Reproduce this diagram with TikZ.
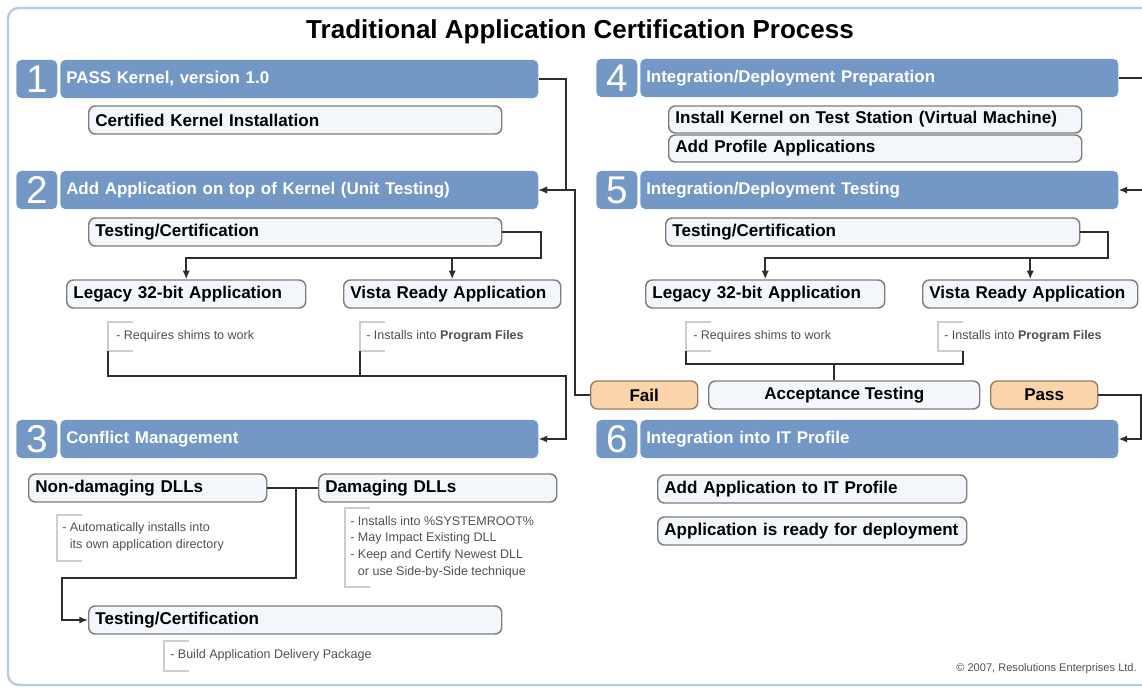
\documentclass[tikz,border=0pt]{standalone}
\usepackage{fontspec}
\setmainfont{Liberation Sans}
\usetikzlibrary{arrows.meta}

\definecolor{barblue}{RGB}{116,152,198}
\definecolor{boxfill}{RGB}{243,247,252}
\definecolor{boxline}{RGB}{125,125,125}
\definecolor{peach}{RGB}{252,212,172}
\definecolor{peachline}{RGB}{150,128,108}
\definecolor{linec}{RGB}{45,45,45}
\definecolor{framec}{RGB}{185,203,225}
\definecolor{brk}{RGB}{205,205,205}
\definecolor{notegray}{RGB}{80,80,80}

\begin{document}
\begin{tikzpicture}[x=0.75pt,y=-0.75pt,
  num/.style={fill=barblue, rounded corners=4pt, minimum width=30.75pt,
    minimum height=28.75pt, inner sep=0pt, text=white,
    font=\fontsize{29}{31}\selectfont, anchor=west},
  bar/.style={fill=barblue, rounded corners=4pt, minimum height=28.75pt,
    inner xsep=4.5pt, inner ysep=0pt, text width=349.5pt, text=white,
    font=\fontsize{12.7}{15}\selectfont\bfseries, align=left, anchor=west},
  sub/.style={draw=boxline, fill=boxfill, line width=1.1pt, rounded corners=5pt,
    minimum height=21pt, inner xsep=5pt, inner ysep=0pt, text=black,
    font=\fontsize{12.8}{15}\selectfont\bfseries, align=left, anchor=west},
  tag/.style={draw=peachline, fill=peach, line width=1.1pt, rounded corners=5pt,
    minimum height=21pt, minimum width=80.25pt, inner sep=0pt, text=black,
    font=\fontsize{12.8}{15}\selectfont\bfseries, anchor=west},
  note/.style={anchor=west, inner sep=0pt, text=notegray, align=left,
    font=\fontsize{9.4}{12.6}\selectfont},
  bracket/.style={draw=brk, line width=0.8pt},
  conn/.style={draw=linec, line width=1.5pt},
  arr/.style={conn, -{Latex[length=6.5pt,width=5.5pt]}}
]
\useasboundingbox (0,0) rectangle (1142,688);

% outer frame
\draw[framec, line width=1.8pt, rounded corners=8pt] (8,8) rectangle (1180,685);

% title
\node[font=\fontsize{19.5}{23}\selectfont\bfseries] (title) at (580,32)
  {Traditional Application Certification Process};

% ---------- left column ----------
\node[num] (n1) at (16,79) {1};
\node[bar] (b1) at (60,79) {PASS Kernel, version 1.0};
\node[sub, text width=299.75pt] (s1a) at (88,120) {Certified Kernel Installation};

\node[num] (n2) at (16,190) {2};
\node[bar] (b2) at (60,190) {Add Application on top of Kernel (Unit Testing)};
\node[sub, text width=299.75pt] (s2t) at (88,232) {Testing/Certification};
\node[sub, text width=169.25pt] (s2l) at (66,294) {Legacy 32-bit Application};
\node[sub, text width=152.75pt] (s2v) at (343,294) {Vista Ready Application};

\draw[bracket] (133,322) -- (108,322) -- (108,351) -- (133,351);
\node[note] (t2l) at (116,336) {- Requires shims to work};
\draw[bracket] (385,322) -- (360,322) -- (360,351) -- (385,351);
\node[note] (t2v) at (366,336) {- Installs into \textbf{Program Files}};

\node[num] (n3) at (16,439) {3};
\node[bar] (b3) at (60,439) {Conflict Management};
\node[sub, text width=168.5pt] (s3n) at (28,488) {Non-damaging DLLs};
\node[sub, text width=168.5pt] (s3d) at (318,488) {Damaging DLLs};

\draw[bracket] (82,515) -- (57,515) -- (57,561) -- (82,561);
\node[note] (t3n) at (62,537)
  {- Automatically installs into\\\phantom{- }its own application directory};
\draw[bracket] (370,508) -- (345,508) -- (345,587) -- (370,587);
\node[note] (t3d) at (350,547)
  {- Installs into \%SYSTEMROOT\%\\- May Impact Existing DLL\\
   - Keep and Certify Newest DLL\\\phantom{- }or use Side-by-Side technique};

\node[sub, text width=299.75pt] (s3t) at (88,620) {Testing/Certification};
\draw[bracket] (189,641) -- (164,641) -- (164,671) -- (189,671);
\node[note] (t3t) at (170,655) {- Build Application Delivery Package};

% ---------- right column ----------
\node[num] (n4) at (596,78) {4};
\node[bar] (b4) at (640,78) {Integration/Deployment Preparation};
\node[sub, text width=299.75pt, minimum height=20.25pt] (s4a) at (668,119.5)
  {Install Kernel on Test Station (Virtual Machine)};
\node[sub, text width=299.75pt, minimum height=20.25pt] (s4b) at (668,148.5)
  {Add Profile Applications};

\node[num] (n5) at (596,190) {5};
\node[bar] (b5) at (640,190) {Integration/Deployment Testing};
\node[sub, text width=300.5pt] (s5t) at (665,232) {Testing/Certification};
\node[sub, text width=169.25pt] (s5l) at (645,294) {Legacy 32-bit Application};
\node[sub, text width=151.25pt] (s5v) at (922,294) {Vista Ready Application};

\draw[bracket] (711,322) -- (686,322) -- (686,351) -- (711,351);
\node[note] (t5l) at (693,336) {- Requires shims to work};
\draw[bracket] (963,322) -- (938,322) -- (938,351) -- (963,351);
\node[note] (t5v) at (944,336) {- Installs into \textbf{Program Files}};

\node[tag] (fail) at (590,395) {Fail};
\node[sub, align=center, minimum width=203.25pt] (acc) at (708,395) {Acceptance Testing};
\node[tag] (pass) at (990,395) {Pass};

\node[num] (n6) at (596,439) {6};
\node[bar] (b6) at (640,439) {Integration into IT Profile};
\node[sub, text width=221.75pt] (s6a) at (657,489) {Add Application to IT Profile};
\node[sub, text width=221.75pt] (s6b) at (657,531) {Application is ready for deployment};

\node[anchor=east, inner sep=0pt, text=notegray, font=\fontsize{8.3}{10}\selectfont]
  (copy) at (1137,669) {© 2007, Resolutions Enterprises Ltd.};

% ---------- connectors ----------
% 1 -> 2, and Fail back to 2
\draw[arr] (b1.east) -- ++(27,0) |- (b2.east);
\draw[arr] (fail.west) -- ++(-15,0) |- (b2.east);

% step 2 split
\coordinate (sp2) at (541,258);
\draw[arr] (s2t.east) -| (sp2) -| (s2l.north);
\draw[arr] (s2v.north |- sp2) -- (s2v.north);

% step 2 -> 3
\coordinate (k2l) at (108,351);
\coordinate (k2v) at (360,351);
\coordinate (m2) at (566,376);
\draw[arr] (k2l) |- (m2) |- (b3.east);
\draw[conn] (k2v) -- (k2v |- m2);

% step 3 DLL paths
\coordinate (m3) at (296,578);
\draw[conn] (s3n.east) -- (s3d.west);
\draw[arr] (s3n.east -| m3) -- (m3) -- ++(-234,0) |- (s3t.west);

% 4 -> 5
\draw[arr] (b4.east) -- ++(32,0) |- (b5.east);

% step 5 split
\coordinate (sp5) at (1108,258);
\draw[arr] (s5t.east) -| (sp5) -| (s5l.north);
\draw[arr] (s5v.north |- sp5) -- (s5v.north);

% step 5 -> acceptance
\coordinate (k5l) at (686,351);
\coordinate (k5v) at (963,351);
\coordinate (h5) at (686,364);
\draw[conn] (k5l) -- (h5) -| (k5v);
\draw[conn] ([xshift=-7.5pt]acc.north) -- ([xshift=-7.5pt]acc.north |- h5);

% Pass -> 6
\draw[arr] (pass.east) -- ++(43,0) |- (b6.east);
\end{tikzpicture}
\end{document}
